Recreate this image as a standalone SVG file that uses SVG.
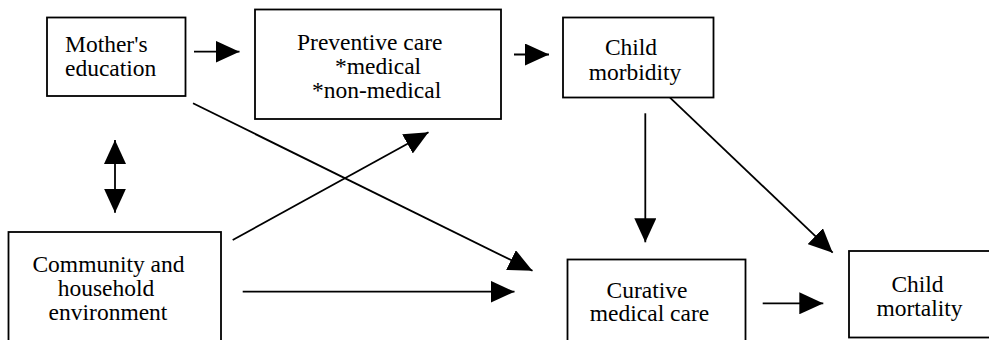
<svg xmlns="http://www.w3.org/2000/svg" width="989" height="340" viewBox="0 0 989 340">
<style>
.box{fill:#fff;stroke:#000;stroke-width:1.8}
.ln{stroke:#000;stroke-width:1.8;fill:none;marker-end:url(#ah)}
text{font-family:'Liberation Serif','Times New Roman',serif;font-size:23.5px;fill:#000}
.c{text-anchor:middle}
</style>
<defs>
<marker id="ah" markerUnits="userSpaceOnUse" markerWidth="24" markerHeight="22" refX="24" refY="11" orient="auto-start-reverse" viewBox="0 0 24 22">
<path d="M0,0 L24,11 L0,22 z" fill="#000"/>
</marker>
</defs>
<rect width="989" height="340" fill="#fff"/>
<g id="mothers-education">
<rect class="box" x="47" y="17.5" width="138.5" height="78.5"/>
<text x="65" y="52">Mother's</text>
<text x="65" y="76">education</text>
</g>
<g id="preventive-care">
<rect class="box" x="255" y="9.5" width="246" height="109.5"/>
<text x="297" y="50">Preventive care</text>
<text x="335" y="74">*medical</text>
<text x="312" y="98">*non-medical</text>
</g>
<g id="child-morbidity">
<rect class="box" x="563" y="17.5" width="150.5" height="80"/>
<text class="c" x="631" y="55">Child</text>
<text class="c" x="635" y="79.5">morbidity</text>
</g>
<g id="community-household">
<rect class="box" x="8.5" y="232" width="212.5" height="120"/>
<text class="c" x="108.5" y="272">Community and</text>
<text class="c" x="106" y="296">household</text>
<text class="c" x="108" y="319.5">environment</text>
</g>
<g id="curative-care">
<rect class="box" x="567.5" y="259.5" width="178" height="90"/>
<text class="c" x="647" y="297.5">Curative</text>
<text class="c" x="649.5" y="321">medical care</text>
</g>
<g id="child-mortality">
<rect class="box" x="849" y="251" width="145" height="86.5"/>
<text class="c" x="917.5" y="292">Child</text>
<text class="c" x="919.5" y="316">mortality</text>
</g>
<g id="connectors">
<line class="ln" x1="194" y1="51.7" x2="239.5" y2="51.7"/>
<line class="ln" x1="514" y1="54.5" x2="549" y2="54.5"/>
<line class="ln" x1="115" y1="140" x2="115" y2="212.7" style="marker-start:url(#ah)"/>
<line class="ln" x1="193" y1="103.3" x2="532.5" y2="270.7"/>
<line class="ln" x1="232.7" y1="240" x2="428.5" y2="132.3"/>
<line class="ln" x1="242.7" y1="291.7" x2="514.5" y2="291.7"/>
<line class="ln" x1="645.3" y1="113.3" x2="645.3" y2="242.3"/>
<line class="ln" x1="670" y1="97.7" x2="832.7" y2="252.7"/>
<line class="ln" x1="762.7" y1="303.3" x2="823.3" y2="303.3"/>
</g>
</svg>
